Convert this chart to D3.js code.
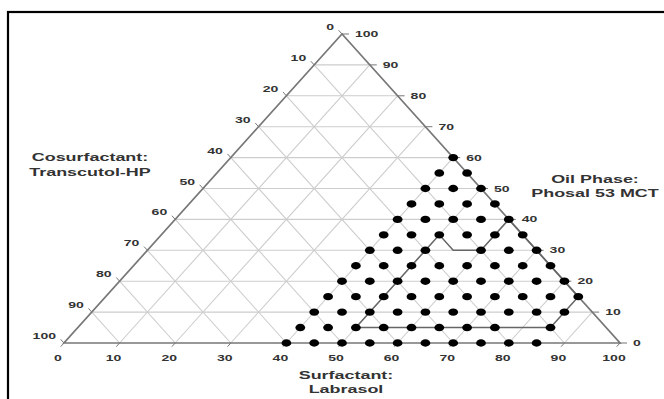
<!DOCTYPE html>
<html>
<head>
<meta charset="utf-8">
<script src="https://cdn.jsdelivr.net/npm/d3@7"></script>
<style>
  body { margin: 0; background: #fff; }
  text { font-family: "Liberation Sans", Arial, sans-serif; font-weight: bold; fill: #333; }
</style>
</head>
<body>
<svg id="chart" width="664" height="399"></svg>
<script>
// axis ticks (percent)
const ticks = [0, 10, 20, 30, 40, 50, 60, 70, 80, 90, 100];

// dots: one row per oil level, surfactant values in that row
const oilLevels = [0, 5, 10, 15, 20, 25, 30, 35, 40, 45, 50, 55, 60];
const surfactantRows = [
  [40, 45, 50, 55, 60, 65, 70, 75, 80, 85],
  [40, 45, 50, 55, 60, 65, 70, 75, 85],
  [40, 45, 50, 55, 60, 65, 70, 75, 80, 85],
  [40, 45, 50, 55, 60, 65, 70, 75, 80, 85],
  [40, 45, 50, 55, 60, 65, 70, 75, 80],
  [40, 45, 50, 55, 60, 65, 70, 75],
  [40, 45, 50, 60, 65, 70],
  [40, 45, 50, 55, 60, 65],
  [40, 45, 50, 55, 60],
  [40, 45, 50, 55],
  [40, 45, 50],
  [40, 45],
  [40]
];

// outlined region (surfactant, oil)
const regionSurfactant = [60, 85, 85, 50, 50, 55, 60];
const regionOil = [40, 15, 5, 5, 35, 30, 30];

const bottomTitle = ["Surfactant:", "Labrasol"];
const leftTitle = ["Cosurfactant:", "Transcutol-HP"];
const rightTitle = ["Oil Phase:", "Phosal 53 MCT"];

const x0 = 64, x1 = 620, yBase = 343, yTop = 34;
const stretch = 1.56; // the picture is wider than an equilateral triangle

const xs = d3.scaleLinear().domain([0, 100]).range([x0, x1]);
const ys = d3.scaleLinear().domain([0, 100]).range([yBase, yTop]);
// s = surfactant, o = oil phase
const px = (s, o) => xs(s + o / 2);
const py = (s, o) => ys(o);

const svg = d3.select("#chart");

// frame
svg.append("rect")
  .attr("x", 8).attr("y", 12)
  .attr("width", 700).attr("height", 420)
  .attr("fill", "none").attr("stroke", "#000").attr("stroke-width", 2.2);

// grid
const inner = ticks.slice(1, -1);
const gridLines = [];
inner.forEach(k => {
  gridLines.push([[0, k], [100 - k, k]]);       // constant oil
  gridLines.push([[k, 0], [k, 100 - k]]);       // constant surfactant
  gridLines.push([[100 - k, 0], [0, 100 - k]]); // constant cosurfactant
});
svg.append("g")
  .attr("stroke", "#cdcdcd").attr("stroke-width", 1.1)
  .selectAll("line")
  .data(gridLines)
  .join("line")
  .attr("x1", d => px(...d[0])).attr("y1", d => py(...d[0]))
  .attr("x2", d => px(...d[1])).attr("y2", d => py(...d[1]));

// triangle edges
svg.append("path")
  .attr("d", d3.line()([[px(0, 0), py(0, 0)], [px(100, 0), py(100, 0)], [px(0, 100), py(0, 100)]]) + "Z")
  .attr("fill", "none").attr("stroke", "#777").attr("stroke-width", 1.7);

// outlined region
const regionPts = regionSurfactant.map((s, i) => [px(s, regionOil[i]), py(s, regionOil[i])]);
svg.append("path")
  .attr("d", d3.line()(regionPts) + "Z")
  .attr("fill", "none").attr("stroke", "#666").attr("stroke-width", 1.5);

// ticks
const ux = (x0 - px(0, 100)), uy = (yBase - yTop);
const ul = Math.hypot(ux, uy);
const dx = ux / ul, dy = uy / ul;
const tl = 5;
const tickG = svg.append("g").attr("stroke", "#777").attr("stroke-width", 1);
// bottom: surfactant
tickG.selectAll(".tb").data(ticks).join("line")
  .attr("x1", d => px(d, 0)).attr("y1", d => py(d, 0))
  .attr("x2", d => px(d, 0) + dx * tl).attr("y2", d => py(d, 0) + dy * tl);
// right: oil
tickG.selectAll(".tr").data(ticks).join("line")
  .attr("x1", d => px(100 - d, d)).attr("y1", d => py(100 - d, d))
  .attr("x2", d => px(100 - d, d) + 7).attr("y2", d => py(100 - d, d));
// left: cosurfactant
tickG.selectAll(".tl").data(ticks).join("line")
  .attr("x1", d => px(0, 100 - d)).attr("y1", d => py(0, 100 - d))
  .attr("x2", d => px(0, 100 - d) + dx * tl).attr("y2", d => py(0, 100 - d) - dy * tl);

function label(g, x, y, txt, anchor, size) {
  g.append("text")
    .attr("transform", `translate(${x},${y}) scale(${stretch},1)`)
    .attr("text-anchor", anchor)
    .style("font-size", size + "px")
    .text(txt);
}

const labG = svg.append("g");
ticks.forEach(t => {
  label(labG, px(t, 0) - 6, 360.5, t, "middle", 9);
  label(labG, px(100 - t, t) + 13, py(100 - t, t) + 3, t, "start", 9);
  label(labG, px(0, 100 - t) - 8, py(0, 100 - t) - 4, t, "end", 9);
});

// axis titles
bottomTitle.forEach((t, i) => label(labG, 346, 379 + i * 14, t, "middle", 11.5));
leftTitle.forEach((t, i) => label(labG, 90, 161 + i * 14.5, t, "middle", 11.5));
rightTitle.forEach((t, i) => label(labG, 595, 183 + i * 14, t, "middle", 11.5));

// dots
const dots = [];
oilLevels.forEach((o, i) => surfactantRows[i].forEach(s => dots.push({s: s, o: o})));
svg.append("g")
  .selectAll("ellipse")
  .data(dots)
  .join("ellipse")
  .attr("cx", d => px(d.s, d.o))
  .attr("cy", d => py(d.s, d.o))
  .attr("rx", 4.9).attr("ry", 3.7)
  .attr("fill", "#000");
</script>
</body>
</html>
